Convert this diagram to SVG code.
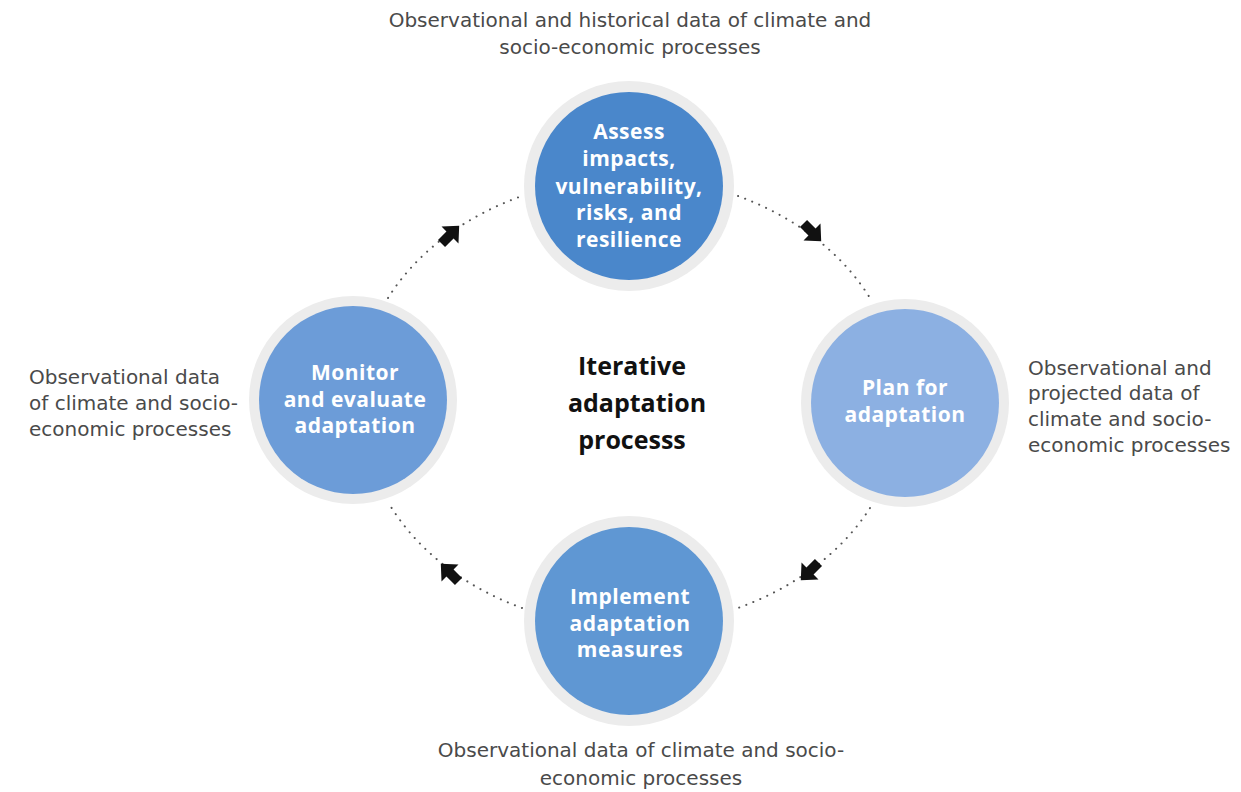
<svg xmlns="http://www.w3.org/2000/svg" width="1241" height="792" viewBox="0 0 1241 792">
<style>
.ring{fill:#ececec}
.node-text{font-family:"Open Sans","Noto Sans",sans-serif;font-weight:700;font-size:21px;letter-spacing:0.5px;fill:#ffffff;text-anchor:middle}
.label{font-family:"DejaVu Sans","Open Sans",sans-serif;font-size:20px;fill:#4a4a4a}
.center{font-family:"Open Sans","Noto Sans",sans-serif;font-weight:700;font-size:25px;fill:#111111;text-anchor:middle}
.dots{fill:none;stroke:#555555;stroke-width:2;stroke-linecap:round;stroke-dasharray:0.1 7.5}
.arrow{fill:#111111}
</style>
<defs>
<path id="arr" d="M -12 -5 L 0 -5 L 0 -12 L 13 0 L 0 12 L 0 5 L -12 5 Z"/>
</defs>
<rect width="1241" height="792" fill="#ffffff"/>
<g id="connectors">
<path class="dots" d="M 738 196 A 276 218 0 0 1 870 298"/>
<path class="dots" d="M 870 508 A 276 218 0 0 1 738 608"/>
<path class="dots" d="M 522 608 A 276 218 0 0 1 388 502"/>
<path class="dots" d="M 388 298 A 276 218 0 0 1 522 196"/>
<use href="#arr" class="arrow" transform="translate(812 232) rotate(45)"/>
<use href="#arr" class="arrow" transform="translate(810 571) rotate(135)"/>
<use href="#arr" class="arrow" transform="translate(450 573) rotate(-135)"/>
<use href="#arr" class="arrow" transform="translate(450 235) rotate(-45)"/>
</g>
<g id="node-assess">
<circle class="ring" cx="629" cy="186" r="105"/>
<circle cx="629" cy="186" r="94" fill="#4a87cb"/>
<text class="node-text" x="629" y="139">Assess</text>
<text class="node-text" x="629" y="166">impacts,</text>
<text class="node-text" x="629" y="194">vulnerability,</text>
<text class="node-text" x="629" y="220">risks, and</text>
<text class="node-text" x="629" y="247">resilience</text>
</g>
<g id="node-plan">
<circle class="ring" cx="905" cy="403" r="104"/>
<circle cx="905" cy="403" r="94" fill="#8cb0e2"/>
<text class="node-text" x="905" y="395">Plan for</text>
<text class="node-text" x="905" y="422">adaptation</text>
</g>
<g id="node-implement">
<circle class="ring" cx="629" cy="621" r="105"/>
<circle cx="629" cy="621" r="94" fill="#5f97d3"/>
<text class="node-text" x="630" y="604">Implement</text>
<text class="node-text" x="630" y="631">adaptation</text>
<text class="node-text" x="630" y="657">measures</text>
</g>
<g id="node-monitor">
<circle class="ring" cx="353" cy="400" r="104"/>
<circle cx="353" cy="400" r="94" fill="#6c9cd8"/>
<text class="node-text" x="355" y="380">Monitor</text>
<text class="node-text" x="355" y="407">and evaluate</text>
<text class="node-text" x="355" y="433">adaptation</text>
</g>
<g id="center-title">
<text class="center" x="632" y="375">Iterative</text>
<text class="center" x="637" y="412">adaptation</text>
<text class="center" x="632" y="449">processs</text>
</g>
<g id="labels">
<text class="label" x="630" y="27" text-anchor="middle">Observational and historical data of climate and</text>
<text class="label" x="630" y="54" text-anchor="middle">socio-economic processes</text>
<text class="label" x="29" y="384">Observational data</text>
<text class="label" x="29" y="410">of climate and socio-</text>
<text class="label" x="29" y="436">economic processes</text>
<text class="label" x="1028" y="375">Observational and</text>
<text class="label" x="1028" y="400">projected data of</text>
<text class="label" x="1028" y="426">climate and socio-</text>
<text class="label" x="1028" y="452">economic processes</text>
<text class="label" x="641" y="757" text-anchor="middle">Observational data of climate and socio-</text>
<text class="label" x="641" y="785" text-anchor="middle">economic processes</text>
</g>
</svg>
